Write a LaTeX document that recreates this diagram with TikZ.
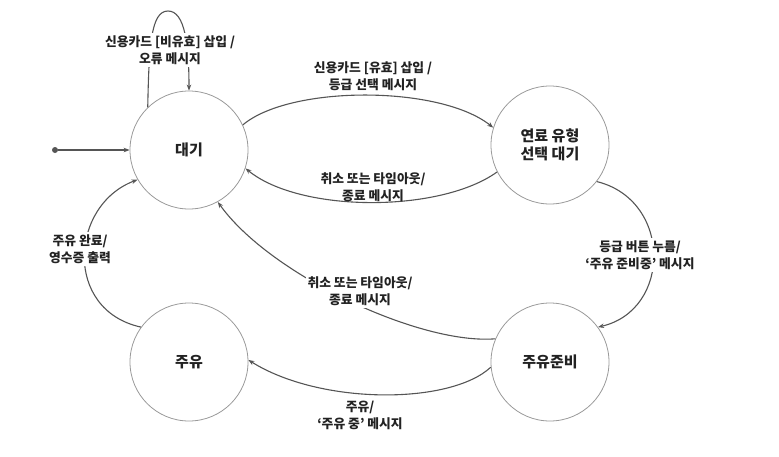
\documentclass[tikz,border=0pt]{standalone}
\usepackage{fontspec}
\setmainfont{Noto Sans CJK KR}
\usetikzlibrary{arrows.meta}
\definecolor{linegray}{HTML}{555555}
\definecolor{circgray}{HTML}{999999}
\definecolor{txt}{HTML}{222222}
\begin{document}
\begin{tikzpicture}[x=1pt,y=-1pt,
  state/.style={circle,draw=circgray,line width=0.8pt,minimum size=118pt,inner sep=0pt,
    align=center,font=\fontsize{15}{18}\selectfont\bfseries,text=txt},
  trans/.style={draw=linegray,line width=1.1pt,-{Stealth[length=6pt,width=4.5pt]}},
  lbl/.style={fill=white,inner sep=2pt,align=center,font=\fontsize{12.8}{17}\selectfont\bfseries,text=txt}]
\useasboundingbox (0,0) rectangle (779,456);
\node[state] (A) at (189,150) {대기};
\node[state] (B) at (550,145) {연료 유형\\선택 대기};
\node[state] (C) at (550,362) {주유준비};
\node[state] (D) at (189,362) {주유};
\node[circle,fill=linegray,inner sep=0pt,minimum size=6pt] (S) at (55,150) {};
\draw[trans] (S) -- (A.west);
% self loop
\draw[trans] (A.134) .. controls (149,45) and (151,11) .. (168,11)
  .. controls (185,11) and (189,45) .. (A.90);
\node[lbl] (L0) at (170,50) {신용카드 [비유효] 삽입 /\\오류 메시지};
% A -> B
\draw[trans] (A.25) .. controls (290,85) and (440,85) .. (B.163);
\node[lbl] (L1) at (373,76) {신용카드 [유효] 삽입 /\\등급 선택 메시지};
% B -> A
\draw[trans] (B.207) .. controls (440,213) and (300,213) .. (A.-18);
\node[lbl,fill=none] (L2) at (373,187) {취소 또는 타임아웃/\\종료 메시지};
% B -> C
\draw[trans] (B.-38) .. controls (672,200) and (672,310) .. (C.36);
\node[lbl] (L3) at (640,255) {등급 버튼 누름/\\‘주유 준비중’ 메시지};
% C -> A
\draw[trans] (C.157) .. controls (420,345) and (270,275) .. (A.-61);
\node[lbl] (L4) at (360,291) {취소 또는 타임아웃/\\종료 메시지};
% C -> D
\draw[trans] (C.185) .. controls (450,405) and (320,405) .. (D.2);
\node[lbl] (L5) at (360,415) {주유/\\‘주유 중’ 메시지};
% D -> A
\draw[trans] (D.144) .. controls (63,310) and (70,205) .. (A.210);
\node[lbl] (L6) at (80,249) {주유 완료/\\영수증 출력};
\end{tikzpicture}
\end{document}
